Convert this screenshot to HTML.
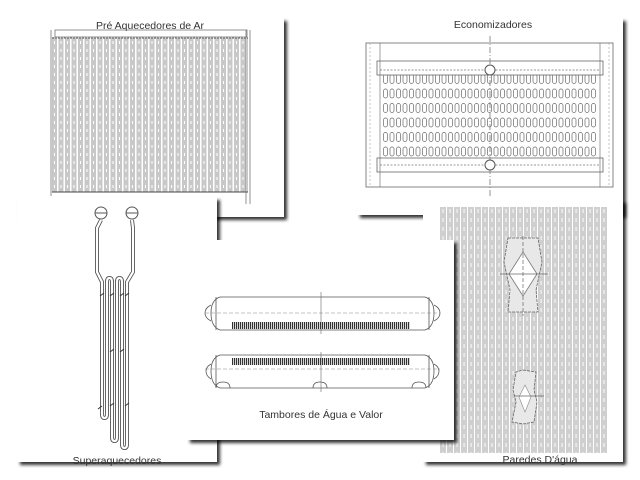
<!DOCTYPE html>
<html><head><meta charset="utf-8"><style>
html,body{margin:0;padding:0;background:#fff;width:640px;height:480px;overflow:hidden}
svg{display:block}
text{font-family:"Liberation Sans",sans-serif;fill:#333}
</style></head><body>
<svg width="640" height="480" viewBox="0 0 640 480" xmlns="http://www.w3.org/2000/svg">
<defs>
<filter id="sh" x="-10%" y="-10%" width="130%" height="130%">
<feGaussianBlur in="SourceAlpha" stdDeviation="1.5"/>
<feOffset dx="3" dy="3"/><feComponentTransfer><feFuncA type="linear" slope="0.8"/></feComponentTransfer>
<feMerge><feMergeNode/><feMergeNode in="SourceGraphic"/></feMerge></filter>
<pattern id="tubes" x="52" y="0" width="6.5" height="8" patternUnits="userSpaceOnUse">
<rect x="0" y="0" width="5" height="8" fill="#c8c8c8"/><rect x="2" y="1" width="1" height="3" fill="#fff"/>
</pattern>
<pattern id="wall" x="440" y="0" width="7" height="9" patternUnits="userSpaceOnUse">
<rect x="0" y="0" width="6" height="9" fill="#cfcfcf"/><rect x="2.5" y="2" width="1.2" height="4" fill="#f4f4f4"/>
</pattern>
<pattern id="ovals" x="376" y="0" width="6.5" height="14.5" patternUnits="userSpaceOnUse">
<rect x="1" y="2" width="4" height="9" rx="2" fill="none" stroke="#666" stroke-width="0.7"/>
</pattern>
<pattern id="hatch" x="0" y="0" width="2" height="4" patternUnits="userSpaceOnUse">
<rect width="1.2" height="4" fill="#333"/></pattern>
</defs>

<!-- Card 1 -->
<rect x="17" y="18" width="267" height="199" fill="#fff" filter="url(#sh)"/>
<text x="150" y="29" font-size="10.5" text-anchor="middle">Pré Aquecedores de Ar</text>
<rect x="55" y="30" width="192" height="7" fill="none" stroke="#777" stroke-width="0.8"/>
<rect x="52" y="37" width="196" height="155" fill="url(#tubes)"/>
<line x1="52" y1="38" x2="248" y2="38" stroke="#555" stroke-dasharray="2,1"/>
<line x1="52" y1="192" x2="248" y2="192" stroke="#444"/>
<line x1="51" y1="30" x2="51" y2="196" stroke="#777" stroke-width="0.8"/>
<line x1="246" y1="30" x2="246" y2="204" stroke="#777" stroke-width="0.8"/>
<line x1="250" y1="30" x2="250" y2="204" stroke="#777" stroke-width="0.8"/>

<!-- Card 2 -->
<rect x="357" y="18" width="266" height="197" fill="#fff" filter="url(#sh)"/>
<text x="493" y="28" font-size="10.5" text-anchor="middle">Economizadores</text>
<rect x="366" y="43" width="247" height="144" fill="none" stroke="#666" stroke-width="0.8"/>
<line x1="380" y1="43" x2="380" y2="187" stroke="#777" stroke-width="0.7"/>
<line x1="600" y1="43" x2="600" y2="187" stroke="#777" stroke-width="0.7"/>
<line x1="370" y1="43" x2="370" y2="187" stroke="#aaa" stroke-dasharray="2,2" stroke-width="0.7"/>
<line x1="609" y1="43" x2="609" y2="187" stroke="#aaa" stroke-dasharray="2,2" stroke-width="0.7"/>
<rect x="377" y="61" width="226" height="14" fill="none" stroke="#666" stroke-width="0.8"/>
<line x1="380" y1="70" x2="600" y2="70" stroke="#777" stroke-dasharray="2,1.5" stroke-width="0.8"/>
<rect x="377" y="158" width="226" height="14" fill="none" stroke="#666" stroke-width="0.8"/>
<line x1="380" y1="165" x2="600" y2="165" stroke="#777" stroke-dasharray="2,1.5" stroke-width="0.8"/>
<rect x="382" y="75" width="215" height="83" fill="url(#ovals)"/>
<line x1="490" y1="36" x2="490" y2="196" stroke="#777" stroke-dasharray="6,2,1,2" stroke-width="0.8"/>
<circle cx="490" cy="70" r="5" fill="#fff" stroke="#555"/>
<circle cx="490" cy="165" r="5" fill="#fff" stroke="#555"/>

<!-- Card 3 Superaquecedores -->
<rect x="17" y="197" width="200" height="265" fill="#fff" filter="url(#sh)"/>
<g fill="none" stroke="#555" stroke-width="1">
<circle cx="101" cy="213" r="6"/><circle cx="132" cy="213" r="6"/>
<line x1="95" y1="213" x2="107" y2="213"/><line x1="126" y1="213" x2="138" y2="213"/>
</g>
<path d="M101 220 L97 228 L97 272 L102 282 L102 414 Q102 418 104.5 418 Q107 418 107 414 L107 282 Q107 278 109.5 278 Q112 278 112 282 L112 437 Q112 441 114.5 441 Q117 441 117 437 L117 282 Q117 278 119.5 278 Q122 278 122 282 L122 444 Q122 448 124.5 448 Q127 448 127 444 L127 282 L133 272 L133 228 L132 220" fill="none" stroke="#555" stroke-width="4" stroke-linejoin="round"/>
<path d="M101 220 L97 228 L97 272 L102 282 L102 414 Q102 418 104.5 418 Q107 418 107 414 L107 282 Q107 278 109.5 278 Q112 278 112 282 L112 437 Q112 441 114.5 441 Q117 441 117 437 L117 282 Q117 278 119.5 278 Q122 278 122 282 L122 444 Q122 448 124.5 448 Q127 448 127 444 L127 282 L133 272 L133 228 L132 220" fill="none" stroke="#fff" stroke-width="2.2" stroke-linejoin="round"/>
<g stroke="#333" stroke-width="1">
<line x1="100" y1="296" x2="104" y2="293"/><line x1="110" y1="296" x2="114" y2="293"/><line x1="120" y1="296" x2="124" y2="293"/><line x1="125" y1="296" x2="129" y2="293"/>
<line x1="110" y1="352" x2="114" y2="349"/><line x1="120" y1="352" x2="124" y2="349"/>
<line x1="98" y1="409" x2="102" y2="406"/><line x1="110" y1="406" x2="114" y2="403"/><line x1="125" y1="406" x2="129" y2="403"/>
</g>
<text x="117" y="464" font-size="10.5" text-anchor="middle">Superaquecedores</text>

<!-- Card 4 Paredes -->
<rect x="423" y="200" width="200" height="262" fill="#fff" filter="url(#sh)"/>
<rect x="440" y="207" width="167" height="246" fill="url(#wall)"/>
<path d="M508 238 L538 238 L542 262 L536 290 L538 312 L508 312 L510 290 L504 262 Z" fill="#e8e8e8" stroke="#666" stroke-dasharray="3,1" stroke-width="0.8"/>
<path d="M523 252 L537 274 L523 296 L509 274 Z" fill="#fff" stroke="#777" stroke-width="0.8"/>
<line x1="500" y1="274" x2="548" y2="274" stroke="#666" stroke-width="0.7"/>
<line x1="523" y1="236" x2="523" y2="316" stroke="#666" stroke-width="0.7" stroke-dasharray="4,2"/>
<path d="M523 370 L536 372 L534 390 L537 402 L534 422 L523 424 L512 422 L516 402 L513 390 L516 372 Z" fill="#e8e8e8" stroke="#666" stroke-dasharray="3,1" stroke-width="0.8"/>
<path d="M525 385 L531 397 L525 412 L519 397 Z" fill="#fff" stroke="#888" stroke-width="0.6"/>
<line x1="514" y1="396" x2="544" y2="396" stroke="#666" stroke-width="0.7"/>
<text x="540" y="463" font-size="10.5" text-anchor="middle">Paredes D'água</text>

<!-- Card 5 Tambores -->
<rect x="187" y="240" width="267" height="200" fill="#fff" filter="url(#sh)"/>
<g fill="none" stroke="#555" stroke-width="0.8">
<path d="M220 297 L425 297 Q434 300 434 313 Q434 327 425 330 L220 330 Q211 327 211 313 Q211 300 220 297 Z"/>
<line x1="216" y1="297" x2="216" y2="330"/><line x1="429" y1="297" x2="429" y2="330"/>
<path d="M211 305 Q205 308 205 313 Q205 318 211 321"/><path d="M434 305 Q440 308 440 313 Q440 318 434 321"/>
<path d="M220 355 L425 355 Q434 358 434 371 Q434 385 425 388 L220 388 Q211 385 211 371 Q211 358 220 355 Z"/>
<line x1="216" y1="355" x2="216" y2="388"/><line x1="429" y1="355" x2="429" y2="388"/>
<path d="M211 364 Q206 367 206 371 Q206 376 211 379"/><path d="M434 364 Q439 367 439 371 Q439 376 434 379"/>
<path d="M216 388 Q216 382 223 382 Q230 382 230 388"/><path d="M313 388 Q313 382 320 382 Q327 382 327 388"/><path d="M412 388 Q412 382 419 382 Q426 382 426 388"/>
</g>
<line x1="205" y1="313" x2="440" y2="313" stroke="#888" stroke-width="0.6" stroke-dasharray="4,2"/>
<line x1="205" y1="369" x2="440" y2="369" stroke="#888" stroke-width="0.6" stroke-dasharray="4,2"/>
<line x1="321" y1="292" x2="321" y2="334" stroke="#666" stroke-width="0.6"/>
<line x1="321" y1="352" x2="321" y2="392" stroke="#666" stroke-width="0.6"/>
<rect x="232" y="322" width="178" height="7" fill="url(#hatch)"/>
<rect x="232" y="358" width="178" height="7" fill="url(#hatch)"/>
<text x="321" y="418" font-size="10.5" text-anchor="middle">Tambores de Água e Valor</text>
</svg>
</body></html>
